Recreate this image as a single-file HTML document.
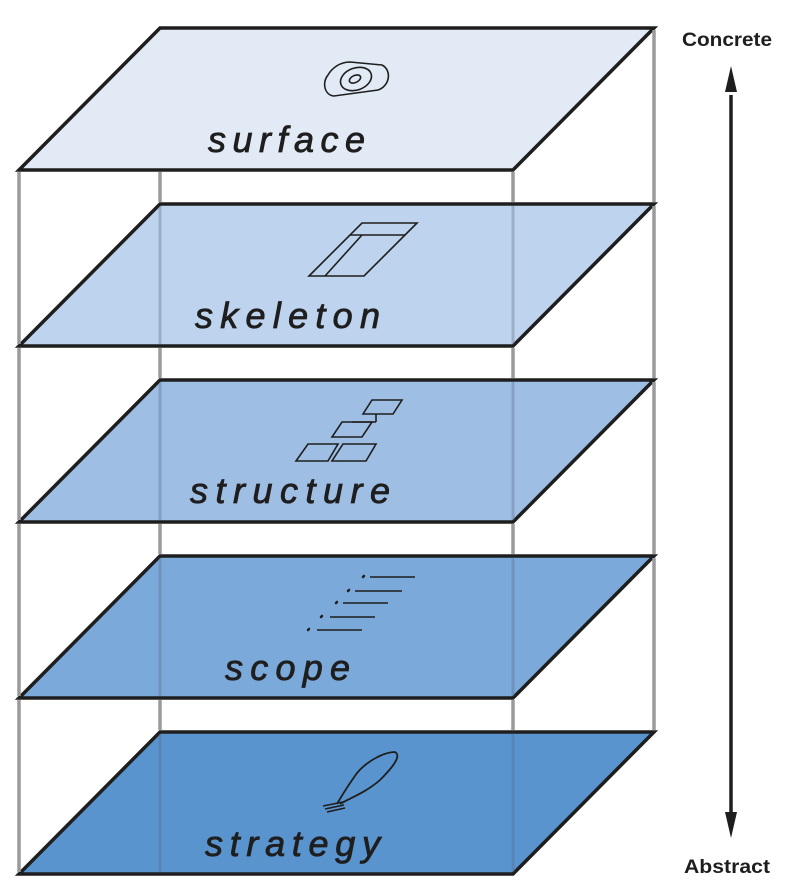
<!DOCTYPE html>
<html><head><style>body{margin:0;background:#fff}svg{display:block}</style></head><body>
<svg width="790" height="896" viewBox="0 0 790 896" xmlns="http://www.w3.org/2000/svg">
<g stroke="#1e1e1e" stroke-width="3.5" stroke-linejoin="miter">
<polygon points="160,28 654,28 513,170 19,170" fill="#e2eaf6"/>
<polygon points="160,204 654,204 513,346 19,346" fill="#bed3ee"/>
<polygon points="160,380 654,380 513,522 19,522" fill="#9fbee4"/>
<polygon points="160,556 654,556 513,698 19,698" fill="#7ba9da"/>
<polygon points="160,732 654,732 513,874 19,874" fill="#5994cf"/>
</g>
<g stroke="#9a9a9a" stroke-width="3.5">
<line x1="19" y1="172" x2="19" y2="344"/><line x1="19" y1="348" x2="19" y2="520"/><line x1="19" y1="524" x2="19" y2="696"/><line x1="19" y1="700" x2="19" y2="872"/>
<line x1="160" y1="172" x2="160" y2="202"/><line x1="160" y1="348" x2="160" y2="378"/><line x1="160" y1="524" x2="160" y2="554"/><line x1="160" y1="700" x2="160" y2="730"/>
<line x1="513" y1="172" x2="513" y2="202"/><line x1="513" y1="348" x2="513" y2="378"/><line x1="513" y1="524" x2="513" y2="554"/><line x1="513" y1="700" x2="513" y2="730"/>
<line x1="654" y1="30" x2="654" y2="202"/><line x1="654" y1="206" x2="654" y2="378"/><line x1="654" y1="382" x2="654" y2="554"/><line x1="654" y1="558" x2="654" y2="730"/>
</g>
<g stroke="#5a6a80" stroke-width="3" stroke-opacity="0.35">
<line x1="160" y1="206" x2="160" y2="344"/><line x1="160" y1="382" x2="160" y2="520"/><line x1="160" y1="558" x2="160" y2="696"/><line x1="160" y1="734" x2="160" y2="872"/>
<line x1="513" y1="206" x2="513" y2="344"/><line x1="513" y1="382" x2="513" y2="520"/><line x1="513" y1="558" x2="513" y2="696"/><line x1="513" y1="734" x2="513" y2="872"/>
</g>
<g font-family="Liberation Sans, sans-serif" font-style="italic" font-size="36" fill="#1e1e1e" stroke="#1e1e1e" stroke-width="0.8">
<text x="208" y="152" textLength="157" lengthAdjust="spacing">surface</text>
<text x="195" y="328" textLength="185" lengthAdjust="spacing">skeleton</text>
<text x="190" y="503" textLength="200" lengthAdjust="spacing">structure</text>
<text x="225" y="680" textLength="125" lengthAdjust="spacing">scope</text>
<text x="205" y="856" textLength="175" lengthAdjust="spacing">strategy</text>
</g>
<g fill="none" stroke="#1e1e1e" stroke-width="1.6">
<path d="M328,75 C322,82 324,95 334,96 L378,90 C390,86 392,70 382,65 L350,62 C340,62 332,68 328,75 Z"/>
<ellipse cx="356" cy="79" rx="16" ry="11" transform="rotate(-20 356 79)"/>
<ellipse cx="355" cy="79" rx="6" ry="3.5" transform="rotate(-25 355 79)"/>
<polygon points="362,223 417,223 364,276 309,276"/>
<line x1="350" y1="235" x2="405" y2="235"/><line x1="362" y1="235" x2="325" y2="276"/>
<polygon points="372,400 402,400 393,414 363,414"/>
<line x1="376" y1="414" x2="376" y2="422"/><line x1="352" y1="422" x2="376" y2="422"/>
<polygon points="342,422 372,422 362,437 332,437"/>
<polygon points="308,444 338,444 328,461 296,461"/>
<polygon points="343,444 376,444 366,461 332,461"/>
<line x1="370" y1="577" x2="415" y2="577"/><line x1="355" y1="591" x2="402" y2="591"/>
<line x1="343" y1="603" x2="388" y2="603"/><line x1="330" y1="617" x2="375" y2="617"/>
<line x1="317" y1="630" x2="362" y2="630"/>
<path d="M337,804 C345,790 352,780 357,773 C368,760 385,752 395,752 C402,756 392,768 380,780 C365,793 350,798 340,804" stroke-width="1.8"/>
<line x1="323" y1="806" x2="343" y2="802"/><line x1="325" y1="809" x2="344" y2="805"/><line x1="327" y1="812" x2="345" y2="808"/>
</g>
<g stroke="#1e1e1e" stroke-width="2.5" stroke-linecap="round">
<line x1="363" y1="577" x2="364" y2="576"/><line x1="348" y1="591" x2="349" y2="590"/><line x1="336" y1="603" x2="337" y2="602"/><line x1="321" y1="617" x2="322" y2="616"/><line x1="308" y1="630" x2="309" y2="629"/>
</g>
<line x1="731" y1="95" x2="731" y2="812" stroke="#1e1e1e" stroke-width="3.5"/>
<polygon points="731,66 725,92 737,92" fill="#1e1e1e"/>
<polygon points="731,838 725,812 737,812" fill="#1e1e1e"/>
<g font-family="Liberation Sans, sans-serif" font-weight="bold" font-size="19" fill="#1e1e1e" text-anchor="middle">
<text x="727" y="46" textLength="90" lengthAdjust="spacingAndGlyphs">Concrete</text>
<text x="727" y="873" textLength="86" lengthAdjust="spacingAndGlyphs">Abstract</text>
</g>
</svg>
</body></html>
